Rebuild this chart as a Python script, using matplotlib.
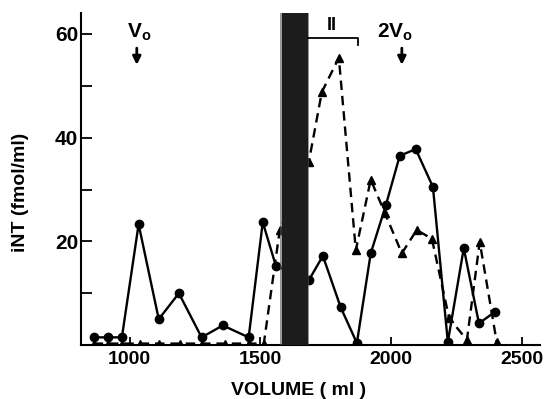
import matplotlib
matplotlib.use('Agg')
import matplotlib.pyplot as plt
import numpy as np

plt.rcParams['font.family'] = 'Liberation Sans'
plt.rcParams['font.weight'] = 'bold'
plt.rcParams['mathtext.fontset'] = 'custom'
plt.rcParams['mathtext.bf'] = 'Liberation Sans:bold'
plt.rcParams['mathtext.rm'] = 'Liberation Sans:bold'

# circles, solid line
vol_circ = [862, 916, 970, 1034, 1111, 1188, 1275, 1356, 1455, 1509, 1559,
            1685, 1739, 1807, 1869, 1922, 1980, 2033, 2094, 2160, 2217,
            2278, 2336, 2397]
int_circ = [1.5, 1.5, 1.5, 23.3, 5.0, 10.0, 1.5, 3.8, 1.5, 23.7, 15.3,
            12.5, 17.2, 7.3, 0.4, 17.7, 27.0, 36.5, 37.8, 30.5, 0.6,
            18.7, 4.2, 6.4]

# triangles, dashed line
vol_tri = [862, 916, 970, 1038, 1111, 1191, 1275, 1364, 1455, 1513, 1574,
           1685, 1735, 1800, 1865, 1922, 1976, 2041, 2098, 2156, 2222,
           2290, 2339, 2404]
int_tri = [0.3, 0.3, 0.3, 0.3, 0.3, 0.3, 0.3, 0.3, 0.3, 0.3, 22.2,
           35.3, 48.8, 55.4, 18.3, 31.9, 25.5, 17.7, 22.2, 20.5, 5.2,
           1.0, 19.9, 0.6]

band = (1582, 1681)

fig = plt.figure(figsize=(5.5, 3.99), dpi=100)
ax = fig.add_axes([0.147, 0.135, 0.835, 0.832])

ax.plot(vol_circ, int_circ, '-', color='black', lw=1.7, marker='o', ms=6, zorder=3)
ax.plot(vol_tri, int_tri, '--', color='black', lw=1.7, marker='^', ms=6,
        dashes=(4, 2.5), zorder=3)

# shaded band
ax.axvspan(band[0], band[1], color='#1c1c1c', zorder=5, lw=0)
ax.axvspan(band[0] - 8, band[1] + 4, color='#555555', alpha=0.6, zorder=4, lw=0)

# peak II bracket
ax.plot([band[1], 1872, 1872], [59.3, 59.3, 57.9], color='black', lw=1.3, zorder=6)
ax.text(1773, 60.0, 'II', ha='center', va='bottom', fontsize=13, fontweight='bold')

# Vo and 2Vo markers
ax.text(1038, 58.3, r'$\mathbf{V_o}$', ha='center', va='bottom', fontsize=15)
ax.annotate('', xy=(1027, 53.5), xytext=(1027, 57.8),
            arrowprops=dict(arrowstyle='-|>', color='black', lw=2, mutation_scale=12))
ax.text(2014, 58.3, r'$\mathbf{2V_o}$', ha='center', va='bottom', fontsize=15)
ax.annotate('', xy=(2041, 53.5), xytext=(2041, 57.8),
            arrowprops=dict(arrowstyle='-|>', color='black', lw=2, mutation_scale=12))

ax.set_xlim(813, 2570)
ax.set_ylim(0, 64)
ax.spines['top'].set_visible(False)
ax.spines['right'].set_visible(False)
ax.spines['left'].set_linewidth(1.5)
ax.spines['bottom'].set_linewidth(1.5)

ax.set_xticks([1000, 1500, 2000, 2500])
ax.set_yticks([20, 40, 60])
ax.set_yticks([10, 30, 50], minor=True)
ax.tick_params(axis='y', which='both', direction='in', length=8, width=1.3,
               labelsize=15, pad=2)
ax.tick_params(axis='x', direction='in', length=6, width=1.3, labelsize=14, pad=4)
for lab in ax.get_xticklabels() + ax.get_yticklabels():
    lab.set_fontweight('bold')

ax.set_xlabel('VOLUME ( ml )', fontsize=14, fontweight='bold')
ax.xaxis.set_label_coords(0.473, -0.112)
ax.set_ylabel('iNT (fmol/ml)', fontsize=14, fontweight='bold')
ax.yaxis.set_label_coords(-0.112, 0.461)

plt.savefig('out.png', dpi=100)
